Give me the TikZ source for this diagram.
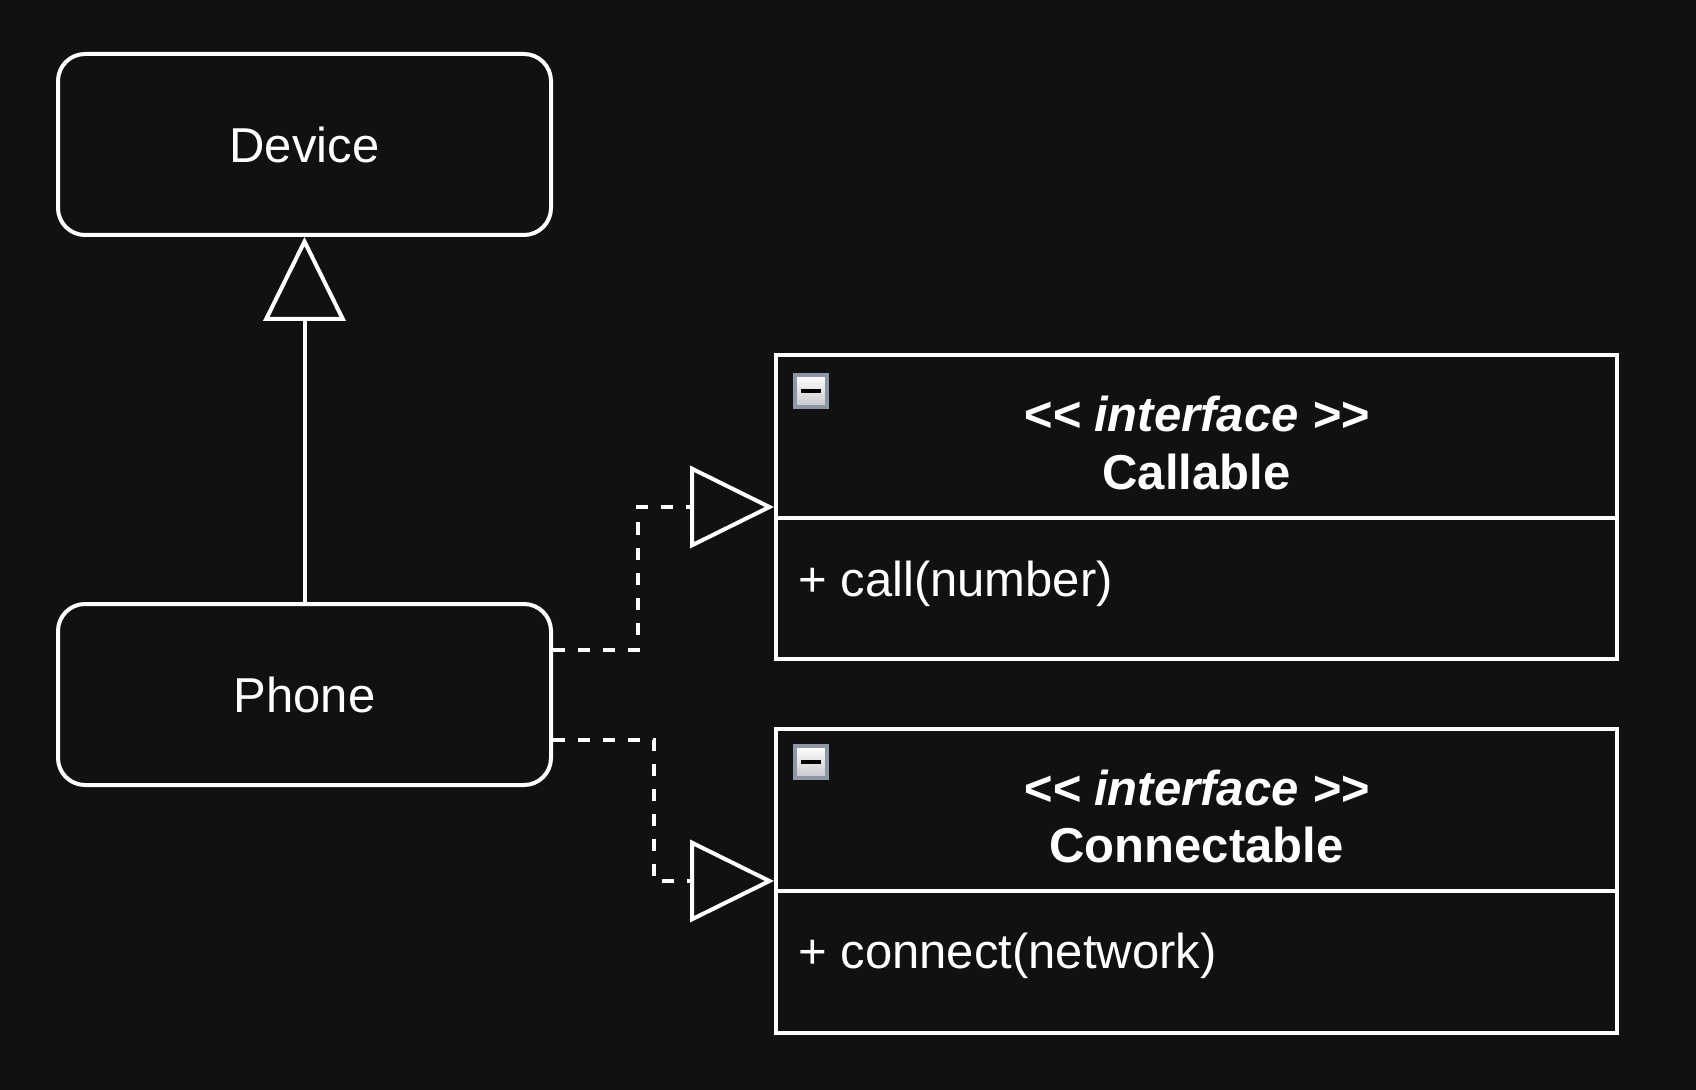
\documentclass[tikz,border=0pt]{standalone}
\usepackage{fontspec}
\setmainfont{Liberation Sans}
\usepackage{xcolor}
\usepackage{tikz}
\usetikzlibrary{positioning, calc, arrows.meta}
\definecolor{umlBack}{RGB}{17, 17, 17}
\definecolor{umlLine}{RGB}{255, 255, 255}
\definecolor{umlIcon}{RGB}{142, 151, 166}
\definecolor{umlShade}{RGB}{200, 200, 204}
\tikzset{
    base/.style={
        font=\fontsize{24.5}{29}\selectfont,
        text=umlLine
    },
    entity/.style={
        base,
        rectangle,
        rounded corners=13.5pt,
        draw=umlLine,
        line width=2pt,
        minimum width=246.5pt,
        minimum height=90.5pt
    },
    iface/.style={
        rectangle,
        draw=umlLine,
        line width=2pt,
        minimum width=420.5pt,
        minimum height=152pt
    },
    stereo/.style={
        base,
        font=\fontsize{24.5}{29}\selectfont\bfseries\itshape
    },
    classname/.style={
        base,
        font=\fontsize{24.5}{29}\selectfont\bfseries
    },
    operation/.style={
        base,
        anchor=west,
        inner sep=0pt
    },
    icon/.style={
        rectangle,
        draw=umlIcon,
        line width=2pt,
        top color=white,
        bottom color=umlShade,
        minimum size=16pt,
        inner sep=0pt
    },
    divider/.style={
        draw=umlLine,
        line width=2pt
    },
    generalize/.style={
        -{Triangle[open, length=42pt, width=41pt]},
        line width=2pt,
        draw=umlLine
    },
    realize/.style={
        generalize,
        dash pattern=on 6pt off 6.5pt
    }
}

\begin{document}
\begin{tikzpicture}[x=0.5pt, y=-0.5pt]
  \useasboundingbox (0,0) rectangle (1696,1090);
  \fill[umlBack] (0,0) rectangle (1696,1090);

  % Classes
  \node[entity] (device) at (304.5,144.5) {Device};
  \node[entity, below=182.5pt of device] (phone) {Phone};

  % Interfaces
  \node[iface] (callable) at (1196.5,507) {};
  \node[iface, below=33pt of callable] (connectable) {};

  \draw[divider] ($(callable.north west)+(0,165)$) -- ($(callable.north east)+(0,165)$);
  \draw[divider] ($(connectable.north west)+(0,164)$) -- ($(connectable.north east)+(0,164)$);

  \node[icon] (callicon) at ($(callable.north west)+(37,38)$) {\textcolor{black}{\rule{10pt}{2pt}}};
  \node[icon] (conicon) at ($(connectable.north west)+(37,35)$) {\textcolor{black}{\rule{10pt}{2pt}}};

  \node[stereo] (callst) at ($(callable.north)+(0,61)$) {<\kern0pt< interface >\kern0pt>};
  \node[classname] (callname) at ($(callable.north)+(0,119)$) {Callable};
  \node[operation] (callop) at ($(callable.north west)+(24,231)$) {+ call(number)};

  \node[stereo] (const) at ($(connectable.north)+(0,61)$) {<\kern0pt< interface >\kern0pt>};
  \node[classname] (conname) at ($(connectable.north)+(0,118)$) {Connectable};
  \node[operation] (conop) at ($(connectable.north west)+(24,229)$) {+ connect(network)};

  % Connections
  \draw[generalize] (phone) -- (device);
  \draw[realize] ($(phone.east)+(0,-45)$) -- ++(85,0) |- (callable.west);
  \draw[realize] ($(phone.east)+(0,45)$) -- ++(101,0) |- (connectable.west);
\end{tikzpicture}
\end{document}
